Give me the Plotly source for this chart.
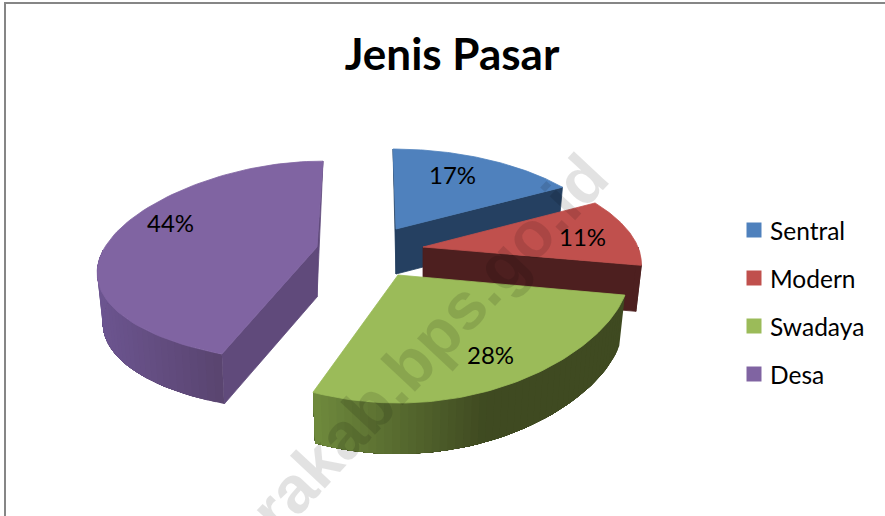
import math
import plotly.graph_objects as go

categories = ["Sentral", "Modern", "Swadaya", "Desa"]
values = [17, 11, 28, 44]
top_colors = ["#4F81BD", "#C0504D", "#9BBB59", "#8064A2"]
face_colors = ["#254061", "#4D1F1F", "#3F4A21", "#604A7B"]

# Appearance of each exploded wedge on the page (pixels): apex, arc centre x,
# radii, perspective factors, thickness.
GEOM = [
    dict(ax=396, cx=393, ay=229, a=214, b=93, kx=0.20, ky=0.14, d=45),
    dict(ax=423, cx=423, ay=247, a=215, b=96, kx=0.18, ky=0.10, d=46),
    dict(ax=398, cx=398, ay=275, a=231, b=102.4, kx=0.0, ky=0.25, d=51),
    dict(ax=317, cx=323, ay=247, a=218, b=101, kx=0.28, ky=0.15, d=50),
]
DEPTH_SCALE = 0.975
RIM_SPEC = {
    2: ((313, "#6F8A3D"), (485, "#3F4A21")),
    3: ((97, "#6C5590"), (222, "#59446F")),
}
LABEL_POS = [(452, 174), (582, 236), (490, 354), (170, 222)]
LEGEND_X = 754
LEGEND_TEXT_X = 768
LEGEND_Y = [230, 278, 326, 374]

angles = [0.0]
for v in values:
    angles.append(angles[-1] + 360.0 * v / sum(values))


def pt(g, deg):
    t = math.radians(deg)
    s, c = math.sin(t), math.cos(t)
    return (g["cx"] + g["a"] * s * (1 - g["kx"] * c),
            g["ay"] - g["b"] * c * (1 - g["ky"] * c))


def low(g, p):
    return (g["ax"] + (p[0] - g["ax"]) * DEPTH_SCALE, p[1] + g["d"])


def mix(c1, c2, t):
    t = max(0.0, min(1.0, t))
    a = [int(c1[i:i + 2], 16) for i in (1, 3, 5)]
    b = [int(c2[i:i + 2], 16) for i in (1, 3, 5)]
    return "rgb(%d,%d,%d)" % tuple(round(a[i] + (b[i] - a[i]) * t) for i in range(3))


fig = go.Figure()


def poly(points, color, line=True, name=""):
    xs = [p[0] for p in points] + [points[0][0]]
    ys = [p[1] for p in points] + [points[0][1]]
    fig.add_trace(go.Scatter(
        x=xs, y=ys, mode="lines", fill="toself", fillcolor=color,
        line=dict(color=color, width=0.8 if line else 0),
        hoverinfo="skip", showlegend=False, name=name))


for i in [0, 3, 1, 2]:
    g = GEOM[i]
    t0, t1 = angles[i], angles[i + 1]
    apex = (g["ax"], g["ay"])
    apex_low = (g["ax"], g["ay"] + g["d"])
    p0, p1 = pt(g, t0), pt(g, t1)
    if i in (0, 3):
        # thin sliver of the far radial face
        corner = p0 if i == 0 else p1
        poly([corner, apex, apex_low], face_colors[i])
    if i in (0, 1):
        # radial face at the wedge's clockwise end
        poly([apex, p1, low(g, p1), apex_low], face_colors[i])
    if i == 1:
        # short rim at the right corner
        poly([pt(g, 90), p1, low(g, p1), low(g, pt(g, 90))], face_colors[i])
    if i == 3:
        # radial face at the wedge's start
        poly([apex, p0, low(g, p0), apex_low], face_colors[i])
    if i in RIM_SPEC:
        (x0, c0), (x1, c1) = RIM_SPEC[i]
        lo, hi = max(t0, 90.0), min(t1, 268.0)
        n = int((hi - lo) / 2)
        steps = [lo + (hi - lo) * k / n for k in range(n + 1)]
        # paint each strip out to the far end of the rim so no seams remain
        for k in range(n):
            rest = steps[k:]
            tops = [pt(g, a) for a in rest]
            q0, q1 = tops[0], tops[1]
            col = mix(c0, c1, (((q0[0] + q1[0]) / 2) - x0) / (x1 - x0))
            poly(tops + [low(g, q) for q in reversed(tops)], col, line=False)
    arc = [pt(g, t0 + (t1 - t0) * k / 80) for k in range(81)]
    poly([apex] + arc, top_colors[i], name=categories[i])

# legend keys
for i, cat in enumerate(categories):
    fig.add_trace(go.Scatter(
        x=[LEGEND_X], y=[LEGEND_Y[i]], mode="markers", name=cat,
        marker=dict(symbol="square", size=15, color=top_colors[i]),
        hoverinfo="skip", showlegend=False, cliponaxis=False))

annotations = [
    dict(text="<b>urakab.bps.go.id</b>", x=415, y=358, xref="x", yref="y",
         textangle=-47, showarrow=False,
         font=dict(family="Liberation Sans", size=66, color="rgba(0,0,0,0.115)")),
]
for (x, y), v in zip(LABEL_POS, values):
    annotations.append(dict(text=f"{v}%", x=x, y=y, xref="x", yref="y", showarrow=False,
                            font=dict(family="Lato", size=24, color="#000000")))
for cat, y in zip(categories, LEGEND_Y):
    annotations.append(dict(text=cat, x=LEGEND_TEXT_X, y=y, xref="x", yref="y",
                            xanchor="left", showarrow=False,
                            font=dict(family="Lato", size=24.5, color="#000000")))

fig.update_layout(
    width=885, height=516, autosize=False,
    margin=dict(l=0, r=0, t=0, b=0),
    paper_bgcolor="white", plot_bgcolor="white",
    showlegend=False,
    title=dict(text="<b>Jenis Pasar</b>", x=452 / 885, xanchor="center",
               y=1 - 55 / 516, yanchor="middle",
               font=dict(family="Lato", size=44, color="#000000")),
    xaxis=dict(range=[0, 885], visible=False, fixedrange=True),
    yaxis=dict(range=[516, 0], visible=False, fixedrange=True),
    annotations=annotations,
    shapes=[
        dict(type="line", xref="x", yref="y", x0=5, x1=5, y0=3, y1=516,
             line=dict(color="#868686", width=2)),
        dict(type="line", xref="x", yref="y", x0=4, x1=885, y0=3, y1=3,
             line=dict(color="#868686", width=2)),
    ],
)

fig.write_html("out.html", config={"displayModeBar": False},
               post_script="document.body.style.margin='0';document.body.style.overflow='hidden';")
